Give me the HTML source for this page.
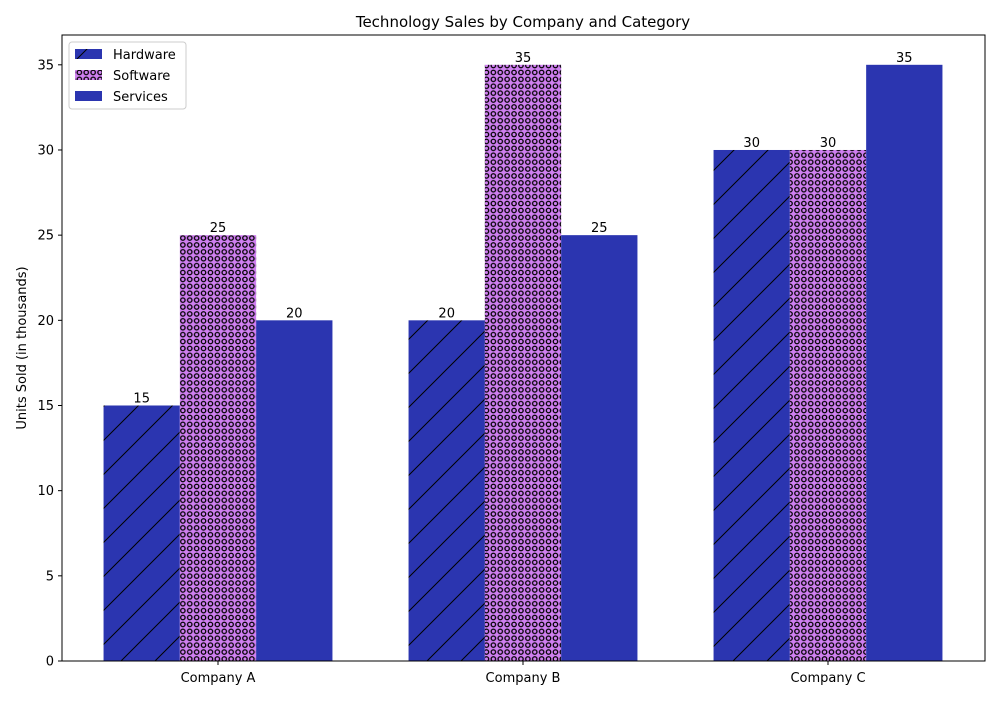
<!DOCTYPE html>
<html><head><meta charset="utf-8"><style>
body{margin:0;background:#fff;font-family:"Liberation Sans","DejaVu Sans",sans-serif}
svg text{font-family:"DejaVu Sans","Liberation Sans",sans-serif}
</style></head><body>
<svg id="chart" width="1000" height="700" xmlns="http://www.w3.org/2000/svg">
<defs>
<pattern id="hatch" patternUnits="userSpaceOnUse" width="34" height="34">
<rect width="34" height="34" fill="#2b35b0"/>
<path d="M-2,36 L36,-2 M-19,19 L19,-19 M15,53 L53,15" stroke="#000" stroke-width="1"/>
</pattern>
<pattern id="rings" patternUnits="userSpaceOnUse" width="6.9" height="6.9">
<rect width="6.9" height="6.9" fill="#cf7ff0"/>
<circle cx="3.45" cy="3.45" r="2.2" fill="none" stroke="#000" stroke-width="1.3"/>
</pattern>
</defs>
<rect width="1000" height="700" fill="#fff"/>
<text x="523" y="27" text-anchor="middle" font-size="15">Technology Sales by Company and Category</text>
<g id="plot"></g>
<rect x="62" y="35" width="923" height="626" fill="none" stroke="#000" stroke-width="1"/>
<text transform="translate(26,348) rotate(-90)" text-anchor="middle" font-size="13">Units Sold (in thousands)</text>
<g>
<rect x="69" y="42" width="117" height="67" rx="3" fill="#fff" stroke="#ccc"/>
<rect x="75" y="49" width="27" height="10" fill="url(#hatch)"/>
<text x="113" y="59" font-size="13">Hardware</text>
<rect x="75" y="70" width="27" height="10" fill="url(#rings)"/>
<text x="113" y="80" font-size="13">Software</text>
<rect x="75" y="91" width="27" height="10" fill="#2b35b0"/>
<text x="113" y="101" font-size="13">Services</text>
</g>
</svg>
<script>
const categories = ["Company A","Company B","Company C"];
const hardware = [15,20,30];
const software = [25,35,30];
const services = [20,25,35];
const yTicks = [0,5,10,15,20,25,30,35];

const NS="http://www.w3.org/2000/svg";
const plot=document.getElementById('plot');
const yMin=0,yMax=36.75,yTop=35,yBottom=661;
const y=v=>yBottom-(v-yMin)/(yMax-yMin)*(yBottom-yTop);
const x0=218,step=305,bw=76.3;
const xc=i=>x0+i*step;
function mk(t,a){const e=document.createElementNS(NS,t);for(const k in a)e.setAttribute(k,a[k]);plot.appendChild(e);return e;}
yTicks.forEach(v=>{
  const l=mk('line',{x1:58,x2:62,y1:y(v),y2:y(v),stroke:'#000'});
  
  
  const t=mk('text',{x:54,y:y(v)+4.5,'text-anchor':'end','font-size':13});
  t.textContent=v;
  
  
});
categories.forEach((c,i)=>{
  const l=mk('line',{x1:xc(i),x2:xc(i),y1:661,y2:665,stroke:'#000'});
  
  
  const t=mk('text',{x:xc(i),y:682,'text-anchor':'middle','font-size':13});
  t.textContent=c;
  
  
});
const series=[[hardware,'url(#hatch)','hardware'],[software,'url(#rings)','software'],[services,'#2b35b0','services']];
series.forEach(([vals,fill,name],s)=>{
  vals.forEach((v,i)=>{
    const bx=xc(i)+(s-1.5)*bw;
    const r=mk('rect',{x:bx,y:y(v),width:bw,height:y(0)-y(v),fill:fill});
    
    
    const t=mk('text',{x:bx+bw/2,y:y(v)-3,'text-anchor':'middle','font-size':13});
    t.textContent=v;
    
    
  });
});
</script>
</body></html>
